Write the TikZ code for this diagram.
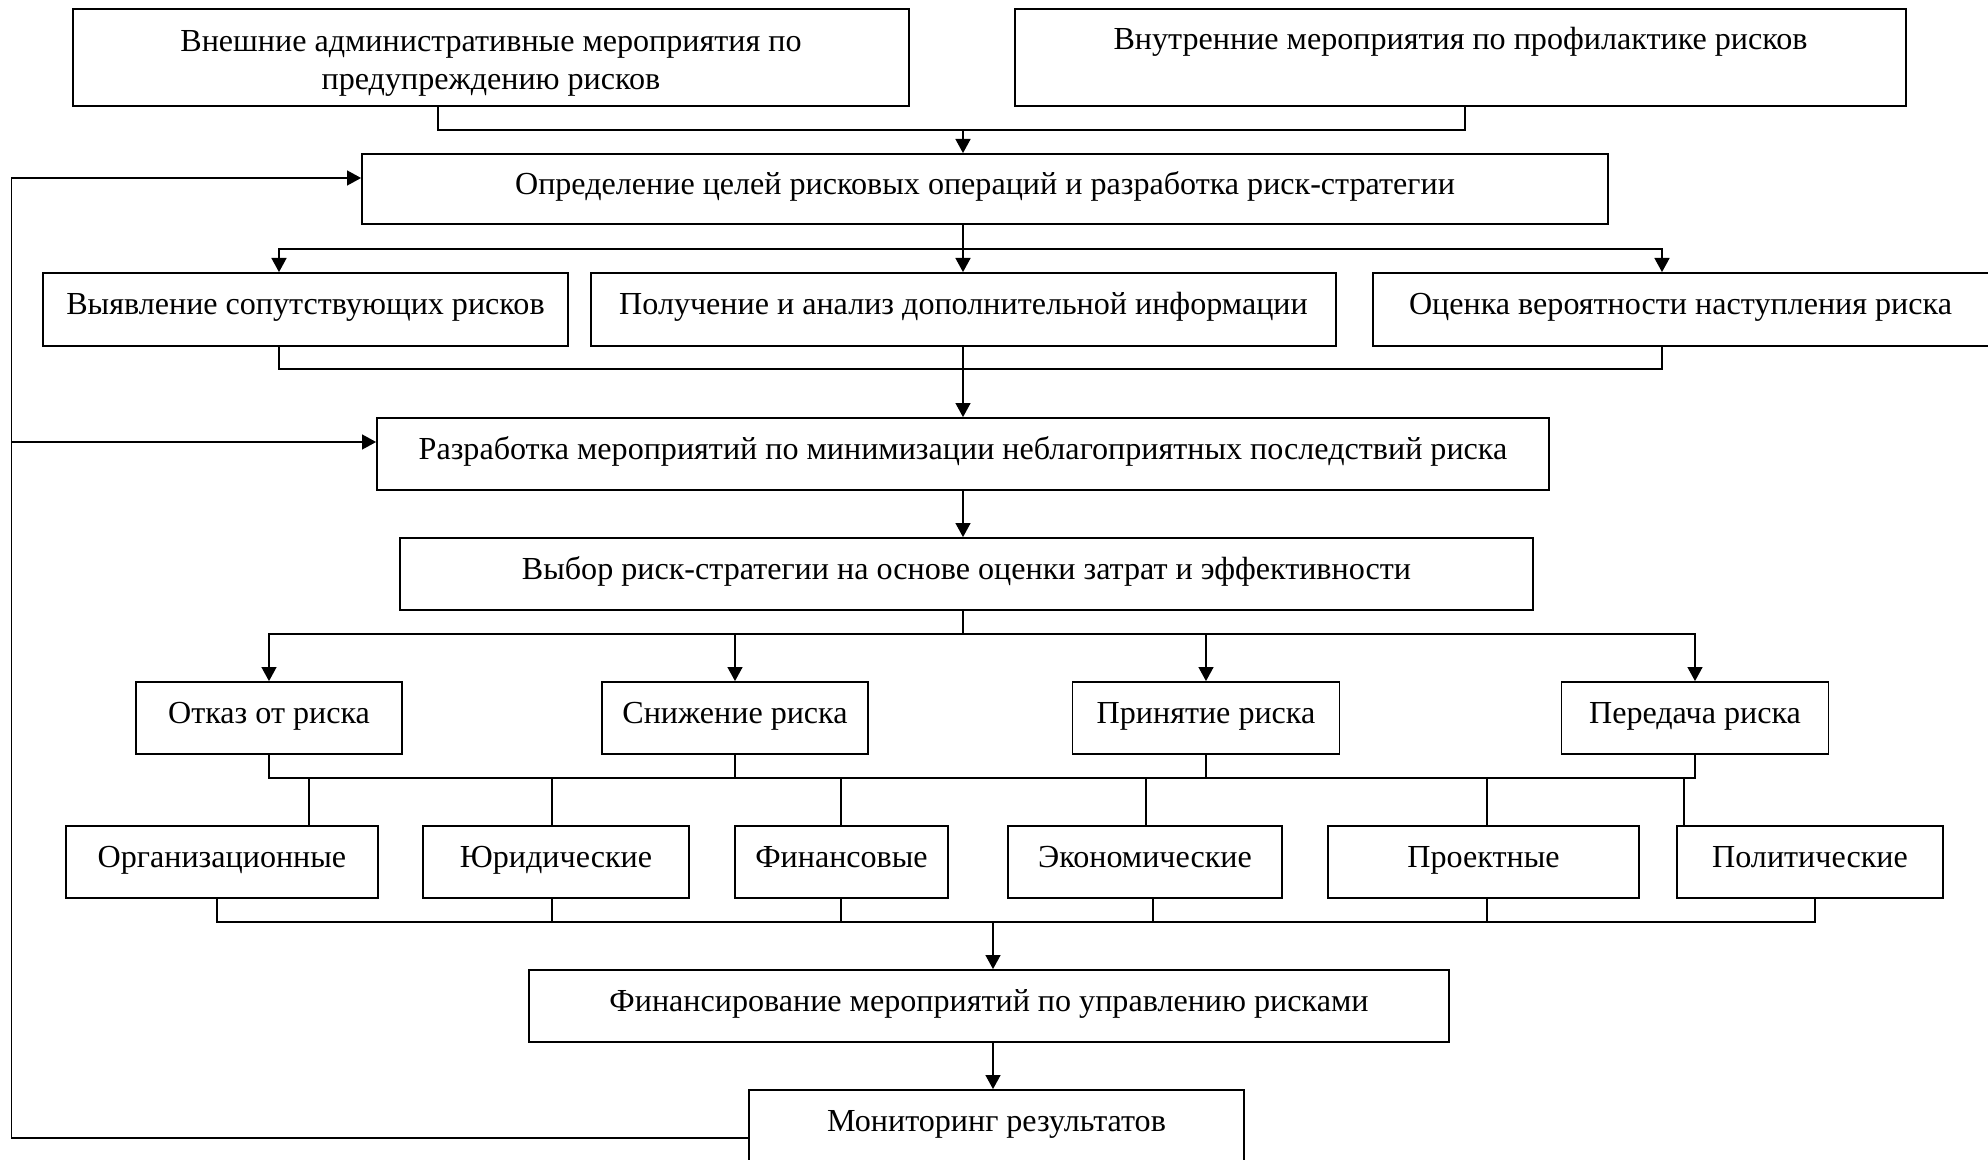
\documentclass[tikz,border=0pt]{standalone}
\usepackage{fontspec}
\setmainfont{Liberation Serif}
\usetikzlibrary{arrows.meta}

\begin{document}
\begin{tikzpicture}[x = 0.3333pt, y = -0.3333pt, line width = 0.5pt,
  box/.style 2 args = {draw, line width = 0.6pt, inner sep = 0, align = center,
    minimum width = #1*0.3333pt, minimum height = #2*0.3333pt,
    font = \fontsize{10.7}{12.7}\selectfont},
  sbox/.style 2 args = {box = {#1}{#2}, text height = 7pt, text depth = 3.4pt},
  arr/.style = {-{Triangle[length = 4.7pt, width = 5pt]}}]
 \useasboundingbox (0, 0) rectangle (1988, 1160);
 % boxes
  \node [box = {836}{97}] (ext) at (491, 57.5) {\rule{0pt}{11pt}Внешние административные мероприятия по\\предупреждению рисков};
  \node [box = {891}{97}] (int) at (1460.5, 57.5) {Внутренние мероприятия по профилактике рисков\\~};
  \node [sbox = {1246}{70}] (goal) at (985, 189) {Определение целей рисковых операций и разработка риск-стратегии};
  \node [sbox = {525}{73}] (find) at (305.5, 309.5) {Выявление сопутствующих рисков};
  \node [sbox = {745}{73}] (info) at (963.5, 309.5) {Получение и анализ дополнительной информации};
  \node [sbox = {627}{73}] (prob) at (1686.5, 309.5) {\hspace*{-4pt}Оценка вероятности наступления риска};
  \node [sbox = {1172}{72}] (dev) at (963, 454) {Разработка мероприятий по минимизации неблагоприятных последствий риска};
  \node [sbox = {1133}{72}] (choice) at (966.5, 574) {Выбор риск-стратегии на основе оценки затрат и эффективности};
  \node [sbox = {266}{72}] (refuse) at (269, 718) {Отказ от риска};
  \node [sbox = {266}{72}] (reduce) at (735, 718) {Снижение риска};
  \node [sbox = {267}{72}] (accept) at (1206, 718) {Принятие риска};
  \node [sbox = {267}{72}] (transfer) at (1695, 718) {Передача риска};
  \node [sbox = {312}{72}] (org) at (222, 862) {Организационные};
  \node [sbox = {266}{72}] (law) at (556, 862) {Юридические};
  \node [sbox = {213}{72}] (fin) at (841.5, 862) {Финансовые};
  \node [sbox = {274}{72}] (econ) at (1145, 862) {Экономические};
  \node [sbox = {311}{72}] (proj) at (1483.5, 862) {Проектные};
  \node [sbox = {266}{72}] (pol) at (1810, 862) {Политические};
  \node [sbox = {920}{72}] (finance) at (989, 1006) {Финансирование мероприятий по управлению рисками};
  \node [sbox = {495}{72}] (monitor) at (996.5, 1126) {Мониторинг результатов};
 % junctions
  \coordinate (j1) at (963, 130);
  \coordinate (j2) at (963, 249);
  \coordinate (j3) at (963, 369);
  \coordinate (j4) at (963, 634);
  \coordinate (j5) at (963, 778);
  \coordinate (j6) at (993, 922);
  \coordinate (fb) at (11.5, 178);
 % connectors
  \draw (ext.south -| 438, 0) |- (j1) -| (int.south -| 1465, 0);
  \draw [arr] (j1) -- (goal.north -| j1);
  \draw (goal.south -| j2) -- (j2);
  \draw [arr] (j2) -| (find.north -| 279, 0);
  \draw [arr] (j2) -- (info.north -| j2);
  \draw [arr] (j2) -| (prob.north -| 1662, 0);
  \draw (find.south -| 279, 0) |- (j3) -| (prob.south -| 1662, 0);
  \draw (info.south -| j3) -- (j3);
  \draw [arr] (j3) -- (dev.north -| j3);
  \draw [arr] (dev.south -| j3) -- (choice.north -| j3);
  \draw (choice.south -| j4) -- (j4);
  \foreach \n in {refuse, reduce, accept, transfer}
   \draw [arr] (j4) -| (\n.north);
  \draw (refuse.south) |- (j5) -| (transfer.south);
  \draw (reduce.south) -- (reduce.south |- j5);
  \draw (accept.south) -- (accept.south |- j5);
  \foreach \n/\x in {org/309, law/552, fin/841, econ/1146, proj/1487, pol/1684}
   \draw [thin] (j5 -| \x, 0) -- (\n.north -| \x, 0);
  \draw (org.south -| 217, 0) |- (j6) -| (pol.south -| 1815, 0);
  \foreach \n/\x in {law/552, fin/841, econ/1153, proj/1487}
   \draw [thin] (\n.south -| \x, 0) -- (j6 -| \x, 0);
  \draw [arr] (j6) -- (finance.north -| j6);
  \draw [arr] (finance.south -| j6) -- (monitor.north -| j6);
  \draw [arr] (monitor.west |- 0, 1138) -| (fb) -- (goal.west |- fb);
  \draw [arr] (fb |- 0, 442) -- (dev.west |- 0, 442);
\end{tikzpicture}
\end{document}
